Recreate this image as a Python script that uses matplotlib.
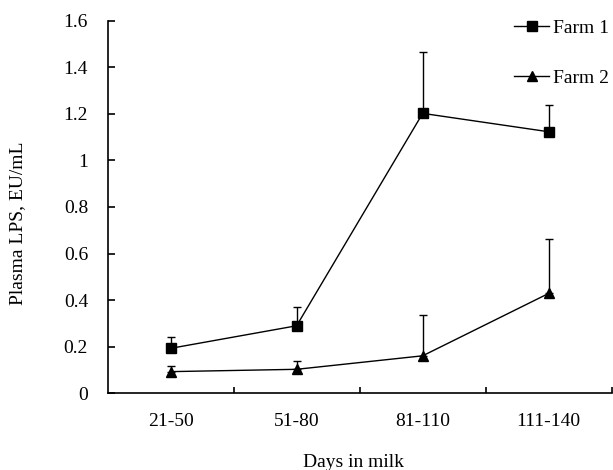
import matplotlib
matplotlib.use("Agg")
import matplotlib.pyplot as plt
from matplotlib.ticker import FixedLocator, MultipleLocator
from matplotlib.lines import Line2D

categories = ["21-50", "51-80", "81-110", "111-140"]
farm1 = [0.193, 0.290, 1.202, 1.123]
farm1_err = [0.050, 0.079, 0.262, 0.113]
farm2 = [0.093, 0.103, 0.161, 0.429]
farm2_err = [0.025, 0.036, 0.176, 0.232]
series_names = ["Farm 1", "Farm 2"]

plt.rcParams['font.family'] = ['Liberation Serif', 'DejaVu Serif']
plt.rcParams['font.size'] = 14

fig = plt.figure(figsize=(6.13, 4.70), dpi=100)
ax = fig.add_axes([0.1754, 0.1632, 0.8226, 0.7928])

x = list(range(len(categories)))
ax.errorbar(x, farm1, yerr=[[0]*4, farm1_err], color='black', marker='s',
            markersize=7, linewidth=1, elinewidth=1, capsize=3, capthick=1)
ax.errorbar(x, farm2, yerr=[[0]*4, farm2_err], color='black', marker='^',
            markersize=7, linewidth=1, elinewidth=1, capsize=3, capthick=1)

ax.set_xlim(-0.5, len(categories) - 0.5)
ax.set_ylim(0, 1.6)
ax.yaxis.set_major_locator(MultipleLocator(0.2))
ticks = ax.get_yticks()
ax.set_yticks(ticks)
ax.set_yticklabels(['0' if abs(v) < 1e-9 else ('1' if abs(v-1) < 1e-9 else f'{v:.1f}') for v in ticks])
ax.set_ylim(0, 1.6)
ax.set_xticks(x)
ax.set_xticklabels(categories)
ax.xaxis.set_minor_locator(FixedLocator([i + 0.5 for i in x]))
ax.tick_params(axis='x', which='major', length=0, pad=14)
ax.tick_params(axis='x', which='minor', direction='in', length=4, width=1.2)
ax.tick_params(axis='y', direction='in', length=5, width=1.2, pad=14)

for s in ['top', 'right']:
    ax.spines[s].set_visible(False)
for s in ['left', 'bottom']:
    ax.spines[s].set_linewidth(1.2)

ax.set_ylabel('Plasma LPS, EU/mL', va='center')
ax.yaxis.set_label_coords(-0.1774, 0.4557)
ax.set_xlabel('Days in milk', va='baseline')
ax.xaxis.set_label_coords(0.487, -0.197)

handles = [Line2D([], [], color='black', marker='s', markersize=7, linewidth=1),
           Line2D([], [], color='black', marker='^', markersize=7, linewidth=1)]
fig.legend(handles=handles, labels=series_names,
           loc='upper left', bbox_to_anchor=(0.8385, 0.9586), frameon=False,
           handlelength=1.8, handletextpad=0.2, labelspacing=1.65,
           borderaxespad=0, borderpad=0)

fig.savefig('out.png', dpi=100)
